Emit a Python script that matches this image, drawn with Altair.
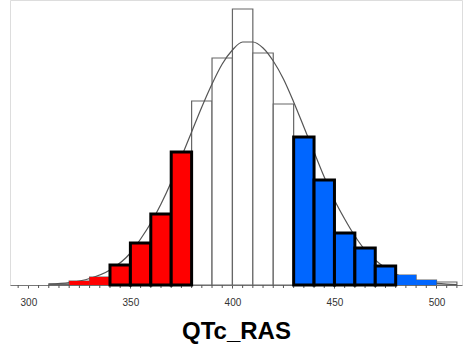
import altair as alt
import pandas as pd

# Histogram bins (QTc_RAS, bin width 10)
bin_start = [310, 320, 330, 340, 350, 360, 370, 380, 390, 400,
             410, 420, 430, 440, 450, 460, 470, 480, 490, 500]
counts = [1, 4, 8, 20, 42, 71, 133, 184, 227, 276,
          232, 181, 148, 105, 52, 37, 19, 10, 5, 3]
group = ["none", "red", "red", "red", "red", "red", "red", "none", "none", "none",
         "none", "none", "blue", "blue", "blue", "blue", "blue", "blue", "blue", "none"]
bold = [False, False, False, True, True, True, True, False, False, False,
        False, False, True, True, True, True, True, False, False, False]

# Fitted normal curve
curve_x = [310, 320, 330, 340, 350, 355, 360, 365, 370, 375, 380, 385, 390, 395,
           400, 405, 410, 415, 420, 425, 430, 435, 440, 445, 450, 455, 460, 465,
           470, 475, 480, 485, 490, 495, 500, 505, 510]
curve_y = [1, 2.4, 6.5, 15, 32, 46, 62, 81, 103, 128, 153, 178, 201, 221,
           235, 243, 243, 237, 224, 206, 183, 158, 133, 108, 85, 66, 49, 35,
           25, 17, 11, 7, 4.4, 2.7, 1.6, 0.9, 0.5]

label_values = [300, 350, 400, 450, 500]
minor_ticks = [v for v in range(295, 515, 5) if v % 50 != 0]

df = pd.DataFrame({"start": bin_start, "count": counts, "group": group, "bold": bold})
df["end"] = df["start"] + 10
curve = pd.DataFrame({"x": curve_x, "y": curve_y})
minor = pd.DataFrame({"v": minor_ticks})

xs = alt.Scale(domain=[291, 512.5], nice=False, zero=False)
ys = alt.Scale(domain=[0, 285], nice=False)

x_axis = alt.Axis(
    title="QTc_RAS",
    values=label_values,
    grid=False,
    domainColor="#777777",
    tickColor="#555555",
    tickSize=3,
    labelFont="Liberation Sans",
    labelFontSize=10,
    labelColor="#333333",
    labelPadding=9,
    titleFont="Liberation Sans",
    titleFontSize=24,
    titleFontWeight="bold",
    titleColor="#000000",
    titlePadding=12,
)

white = alt.Chart(df).mark_rect(fill="white", stroke="#666666", strokeWidth=1.2).encode(
    x=alt.X("start:Q", scale=xs, axis=x_axis),
    x2="end:Q",
    y=alt.Y("count:Q", scale=ys, axis=None),
    y2=alt.datum(0),
)

ticks = alt.Chart(minor).mark_rule(color="#555555", strokeWidth=1).encode(
    x=alt.X("v:Q", scale=xs),
    y=alt.value(285),
    y2=alt.value(288),
)

line = alt.Chart(curve).mark_line(color="#555555", strokeWidth=1.2, interpolate="monotone").encode(
    x=alt.X("x:Q", scale=xs),
    y=alt.Y("y:Q", scale=ys),
)

color_scale = alt.Scale(domain=["red", "blue"], range=["#FF0000", "#0066FF"])

thin = alt.Chart(df).transform_filter(
    "datum.group != 'none' && !datum.bold"
).mark_rect().encode(
    x=alt.X("start:Q", scale=xs),
    x2="end:Q",
    y=alt.Y("count:Q", scale=ys),
    y2=alt.datum(0),
    color=alt.Color("group:N", scale=color_scale, legend=None),
)

thick = alt.Chart(df).transform_filter(
    "datum.bold"
).mark_rect(stroke="black", strokeWidth=3).encode(
    x=alt.X("start:Q", scale=xs),
    x2="end:Q",
    y=alt.Y("count:Q", scale=ys),
    y2=alt.datum(0),
    color=alt.Color("group:N", scale=color_scale, legend=None),
)

chart = alt.layer(white, ticks, line, thin, thick).properties(
    width=452,
    height=285,
    autosize=alt.AutoSizeParams(type="none"),
    padding={"left": 10, "top": 0, "right": 1, "bottom": 59},
).configure_view(stroke=None).configure(background="white")

chart.save("out.html", embed_options={"renderer": "svg", "actions": False})
